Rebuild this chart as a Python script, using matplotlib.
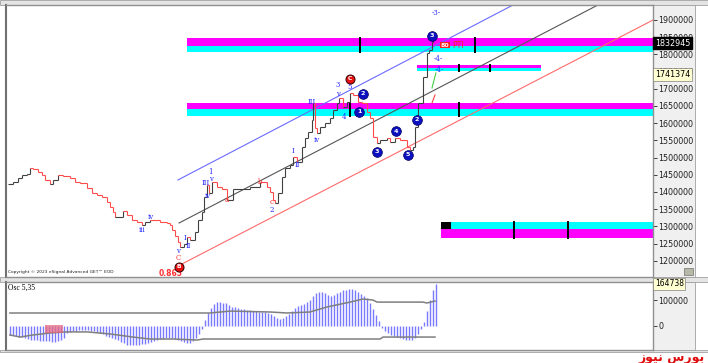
import numpy as np
import matplotlib
matplotlib.use("Agg")
import matplotlib.pyplot as plt
from matplotlib.collections import LineCollection
from matplotlib.patches import Rectangle
import matplotlib.transforms as mtransforms

# ---------------- data ----------------
price_bar = [0.7, 2.3, 4, 5.3, 7, 8, 9, 10.7, 12, 13, 14.7, 15.7, 17.3, 19, 21.3, 23, 24.7, 27, 28.7, 30.3,
             32, 33.7, 34.7, 35.7, 36.3, 39, 40.3, 42, 43.7, 45.3, 46.3, 48, 51.3, 53.7, 54.7, 55.3, 56.3, 57.3,
             58, 59.3, 60.3, 61.3, 63, 64, 65.3, 66, 67, 67.7, 68.7, 70.3, 72, 73.7, 75.7, 79, 81.3, 84.7, 87,
             88, 89, 89.7, 90.7, 92, 93, 94.7, 95.7, 97, 98.7, 99.7, 100.7, 102, 102.3, 103, 103.7, 104.7,
             106.3, 108, 109, 110.3, 111, 112.3, 113.7, 114.7, 115.7, 117.3, 118.7, 120.3, 121.3, 122.3, 123.7,
             124.7, 127, 128, 129.7, 131.3, 133.7, 134.7, 135.7, 136.3, 137.3, 139, 140.3, 141, 142, 142.3]
price_val = [1423000, 1429000, 1441000, 1449000, 1452000, 1470000, 1467000, 1458000, 1449000, 1435000,
             1423000, 1435000, 1449000, 1446000, 1441000, 1429000, 1426000, 1412000, 1397000, 1391000,
             1385000, 1371000, 1356000, 1342000, 1327000, 1345000, 1333000, 1319000, 1313000, 1304000,
             1313000, 1319000, 1313000, 1310000, 1304000, 1290000, 1272000, 1255000, 1240000, 1249000,
             1269000, 1260000, 1284000, 1319000, 1342000, 1385000, 1420000, 1397000, 1429000, 1415000,
             1409000, 1377000, 1409000, 1409000, 1415000, 1429000, 1415000, 1400000, 1377000, 1368000,
             1397000, 1444000, 1470000, 1478000, 1502000, 1487000, 1531000, 1557000, 1574000, 1609000,
             1659000, 1586000, 1572000, 1589000, 1601000, 1615000, 1638000, 1659000, 1673000, 1647000,
             1662000, 1688000, 1682000, 1662000, 1659000, 1633000, 1615000, 1560000, 1542000, 1551000,
             1557000, 1545000, 1557000, 1551000, 1531000, 1522000, 1531000, 1589000, 1659000, 1734000,
             1804000, 1813000, 1836000, 1842000]

last_price = 1832945
marker_price = 1741374
osc_last = 164738

# channels: (start bar, start value, end bar, end value)
chan_blue = [57.3, 1434900, 169.0, 1943600]
chan_black = [57.7, 1309900, 197.3, 1943600]
chan_red = [58.0, 1187800, 215.7, 1900000]

# bands
band_x0 = [60.3, 137.0, 60.3, 145.0]
band_x1 = [215.7, 178.3, 215.7, 215.7]
band_top_lo = [1824400, 1760500, 1641300, 1292500]
band_top_hi = [1847700, 1769200, 1658700, 1312800]
band_bot_lo = [1807000, 1751700, 1620900, 1266300]
band_top_col = ['#ff00ff', '#ff00ff', '#ff00ff', '#00ffff']
band_bot_col = ['#00ffff', '#00ffff', '#00ffff', '#ff00ff']
band_ticks = [[118.0, 156.3], [151.0, 161.3], [114.7, 151.0], [169.3, 187.3]]

# oscillator (thousands), one bar each
osc_k = [-35, -36, -38, -42, -44, -46, -50, -53, -55, -56,
         -57, -58, -58, -60, -62, -62, -60, -56, -45, -27,
         -24, -21, -19, -17, -16, -16, -17, -19, -21, -24,
         -27, -32, -37, -42, -47, -52, -56, -62, -68, -73,
         -74, -74, -74, -73, -71, -69, -67, -64, -60, -55,
         -52, -49, -47, -47, -48, -52, -56, -60, -63, -65,
         -66, -58, -45, -30, -12, 23, 50, 70, 84, 92,
         93, 91, 88, 80, 75, 72, 69, 67, 65, 63,
         61, 58, 57, 55, 54, 53, 52, 48, 40, 32,
         27, 30, 37, 47, 58, 70, 76, 80, 85, 95,
         101, 115, 128, 132, 131, 128, 122, 117, 122, 128,
         134, 140, 142, 144, 144, 140, 132, 125, 118, 108,
         89, 66, 43, 20, -8, -20, -28, -35, -40, -43,
         -47, -50, -53, -54, -55, -47, -30, -10, 15, 60,
         100, 140, 163]
osc_upper_x = [1.3, 65.7, 68, 74.7, 88, 93.7, 101.3, 107, 114.7, 119, 122.3, 123.7, 139, 140.3, 143]
osc_upper_k = [50.6, 50.6, 50.6, 58, 54.5, 50.6, 54.5, 74, 93, 105, 101, 93, 93, 89.5, 97]
osc_lower_x = [1.3, 4.7, 9, 14.7, 20.3, 27, 34.7, 42.3, 48, 55.7, 63.7, 65.7, 124.7, 125.7, 143]
osc_lower_k = [-35, -43, -35, -27, -23, -23, -31, -43, -50.6, -50.6, -54.5, -50.6, -50.6, -43, -43]

# wave labels: text, bar, value, color
wave_labels = [
    ("iii", 45.3, 1289500, 'b'), ("iv", 48.3, 1327300, 'b'), ("v", 57.3, 1227600, 'b'),
    ("C", 57.3, 1207100, 'r'), ("I", 59.7, 1266300, 'b'), ("II", 60.7, 1243000, 'b'),
    ("III", 66.7, 1426200, 'b'), ("iv", 67.3, 1388400, 'b'), ("v", 68.3, 1437800, 'b'),
    ("1", 68.3, 1458100, 'b'), ("a", 73.7, 1376700, 'r'), ("b", 84.7, 1429100, 'r'),
    ("c", 88.7, 1372000, 'r'), ("2", 88.7, 1347000, 'b'), ("I", 95.7, 1519200, 'b'),
    ("II", 97.0, 1478500, 'b'), ("III", 102.0, 1661600, 'b'), ("iv", 103.7, 1551200, 'b'),
    ("3", 110.7, 1710000, 'b'), ("v", 110.7, 1685000, 'b'), ("4", 112.7, 1618000, 'b'),
    ("5", 114.7, 1705200, 'b'), ("-3-", 143.3, 1920300, 'b'), ("-4-", 144.0, 1786600, 'b'),
    ("-4-", 144.3, 1754600, 'b'),
]
blue_circles = [("2", 119.0, 1684900), ("1", 117.7, 1632600), ("3", 123.7, 1516300),
                ("4", 130.0, 1577300), ("5", 134.0, 1507600), ("2", 137.0, 1609300),
                ("3", 142.0, 1853500)]
red_circles = [("C", 114.7, 1728500), ("B", 57.7, 1182000)]
proj_green = [[142.0, 143.3], [1702300, 1745900]]
proj_red = [[142.0, 143.0], [1658700, 1682000]]
y_ticks = list(range(1200000, 1900001, 50000))

# ---------------- figure ----------------
W, H = 708, 363
fig = plt.figure(figsize=(W / 100, H / 100), dpi=100)
fig.patch.set_facecolor('white')

def fr(x, y, w, h):
    return [x / W, 1 - (y + h) / H, w / W, h / H]

# background panels
for (x, y, w, h, fc) in [(0, 0, W, 5, '#e4e4e4'), (0, 277, W, 5, '#e4e4e4'),
                         (653, 5, 42, 272, '#f0f0f0'), (653, 282, 42, 68, '#f0f0f0'),
                         (0, 350, W, 2, '#e4e4e4')]:
    r = fr(x, y, w, h)
    fig.patches.append(Rectangle((r[0], r[1]), r[2], r[3], transform=fig.transFigure,
                                 fc=fc, ec='#a0a0a0', lw=0.6, zorder=-5))
# small icon at bottom of price scale
r = fr(684, 268, 9, 7)
fig.patches.append(Rectangle((r[0], r[1]), r[2], r[3], transform=fig.transFigure,
                             fc='#b8b8a8', ec='#707070', lw=0.5, zorder=-4))

ax = fig.add_axes(fr(6, 5, 647, 272))
ax2 = fig.add_axes(fr(6, 282, 647, 68))
XMAX = 215.67
ax.set_xlim(0, XMAX)
ax.set_ylim(1152900, 1943600)
ax2.set_xlim(0, XMAX)
ax2.set_ylim(-93400, 171200)

for a in (ax, ax2):
    a.set_facecolor('white')
    for s in a.spines.values():
        s.set_color('#909090')
        s.set_linewidth(1.0)
    a.spines['left'].set_color('#707070')
    a.spines['left'].set_linewidth(1.5)
    a.set_xticks([])
    a.yaxis.tick_right()
    a.tick_params(axis='y', direction='out', length=3, width=0.6, pad=1,
                  labelsize=5.8, colors='#202020')

ax.set_yticks(y_ticks)
ax.set_yticklabels([str(v) for v in y_ticks])
ax2.set_yticks([0, 100000])
ax2.set_yticklabels(['0', '100000'])

# bands
for i in range(len(band_x0)):
    ax.fill_between([band_x0[i], band_x1[i]], band_top_lo[i], band_top_hi[i],
                    color=band_top_col[i], lw=0, zorder=1)
    ax.fill_between([band_x0[i], band_x1[i]], band_bot_lo[i], band_top_lo[i],
                    color=band_bot_col[i], lw=0, zorder=1)
    for tx in band_ticks[i]:
        ax.plot([tx, tx], [band_bot_lo[i], band_top_hi[i]], color='black', lw=1.4, zorder=3)
ax.fill_between([145.0, 148.3], band_top_lo[3], band_top_hi[3], color='black', lw=0, zorder=3)

# channels
for ch, col in [(chan_blue, '#6a6aff'), (chan_black, '#555555'), (chan_red, '#ff6a6a')]:
    ax.plot([ch[0], ch[2]], [ch[1], ch[3]], color=col, lw=0.8, zorder=2)

# price steps
segs, cols = [], []
for k in range(len(price_bar) - 1):
    x0, x1 = price_bar[k], price_bar[k + 1]
    y0, y1 = price_val[k], price_val[k + 1]
    c = '#ff4a4a' if y1 < y0 else '#404040'
    segs.append([(x0, y0), (x1, y0)])
    segs.append([(x1, y0), (x1, y1)])
    cols += [c, c]
ax.add_collection(LineCollection(segs, colors=cols, linewidths=0.8, zorder=4))

# projection lines
ax.plot(proj_green[0], proj_green[1], color='#40d040', lw=0.8, zorder=4)
ax.plot(proj_red[0], proj_red[1], color='#ff4040', lw=0.8, zorder=4)

# labels
for t, x, y, c in wave_labels:
    ax.text(x, y, t, color='#2a2aff' if c == 'b' else '#ff2a2a', fontsize=5.0,
            ha='center', va='center', family='DejaVu Serif', zorder=6)
for t, x, y in blue_circles:
    ax.plot(x, y, 'o', ms=7, mfc='#0c10c0', mec='#000060', mew=0.5, zorder=7)
    ax.text(x, y, t, color='white', fontsize=4.6, fontweight='bold', ha='center', va='center', zorder=8)
for t, x, y in red_circles:
    ax.plot(x, y, 'o', ms=6.5, mfc='#e81010', mec='#300000', mew=0.7, zorder=7)
    ax.text(x, y, t, color='white', fontsize=4.3, fontweight='bold', ha='center', va='center', zorder=8)
ax.text(54.7, 1163500, '0.865', color='#ff3030', fontsize=5.5, fontweight='bold',
        ha='center', va='center', zorder=6)
ax.text(146.3, 1827300, '80', color='white', fontsize=4.5, fontweight='bold', ha='center', va='center',
        bbox=dict(boxstyle='square,pad=0.15', fc='#ff2020', ec='none'), zorder=8)
ax.text(148.6, 1827300, 'PTI', color='#ff2020', fontsize=5.5, ha='left', va='center', zorder=8)
ax.text(0.003, 0.012, 'Copyright \u00a9 2023 eSignal Advanced GET\u2122 EOD', transform=ax.transAxes,
        fontsize=3.2, color='#202020', ha='left', va='bottom')

# right price boxes
tr = mtransforms.blended_transform_factory(ax.transAxes, ax.transData)
ax.text(1.003, last_price, str(last_price), transform=tr, fontsize=5.8, color='white', ha='left',
        va='center', bbox=dict(boxstyle='square,pad=0.2', fc='black', ec='black'), zorder=10, clip_on=False)
ax.text(1.003, marker_price, str(marker_price), transform=tr, fontsize=5.8, color='black', ha='left',
        va='center', bbox=dict(boxstyle='square,pad=0.2', fc='#ffffd2', ec='#808080', lw=0.5),
        zorder=10, clip_on=False)
tr2 = mtransforms.blended_transform_factory(ax2.transAxes, ax2.transData)
ax2.text(1.003, osc_last, str(osc_last), transform=tr2, fontsize=5.5, color='black', ha='left',
         va='center', bbox=dict(boxstyle='square,pad=0.2', fc='#ffffd2', ec='#808080', lw=0.5),
         zorder=10, clip_on=False)

# oscillator
osc_x = np.arange(len(osc_k)) + 1.33
osc_v = np.array(osc_k) * 1000.0
ax2.vlines(osc_x, 0, osc_v, color='#7a7aff', lw=1.0, zorder=2)
ax2.plot(osc_upper_x, np.array(osc_upper_k) * 1000, color='#7f7f7f', lw=1.1, zorder=3)
ax2.plot(osc_lower_x, np.array(osc_lower_k) * 1000, color='#7f7f7f', lw=1.1, zorder=3)
ax2.add_patch(Rectangle((13, -27000), 6, 31000, fc='#e86a80', ec='none', alpha=0.75, zorder=4))
ax2.text(0.003, 0.97, 'Osc 5,35', transform=ax2.transAxes, fontsize=5.5, family='Liberation Serif',
         ha='left', va='top', color='black')

# watermark
fig.text(0.996, 1 - 357 / H, '\ufeaf\ufeee\ufbff\ufee7 \ufeb1\ufead\ufeee\ufe91', color='#e01010',
         fontsize=9, fontweight='bold', family=['DejaVu Sans'], ha='right', va='center')

fig.savefig('out.png', dpi=100)
